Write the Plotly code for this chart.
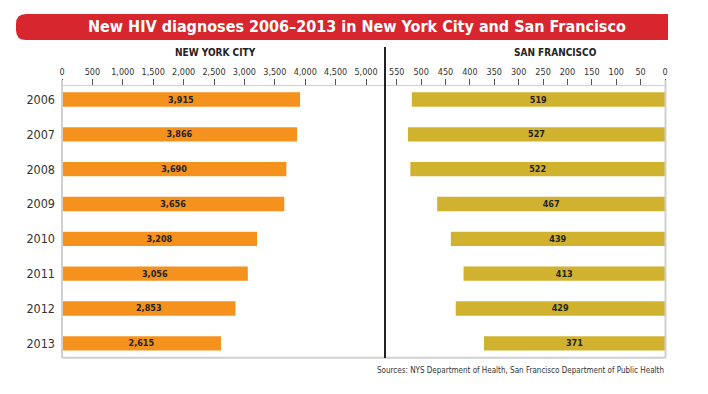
import plotly.graph_objects as go

years = ["2006", "2007", "2008", "2009", "2010", "2011", "2012", "2013"]
nyc = [3915, 3866, 3690, 3656, 3208, 3056, 2853, 2615]
sf = [519, 527, 522, 467, 439, 413, 429, 371]
nyc_ticks = [0, 500, 1000, 1500, 2000, 2500, 3000, 3500, 4000, 4500, 5000]
sf_ticks = [550, 500, 450, 400, 350, 300, 250, 200, 150, 100, 50, 0]

title = "New HIV diagnoses 2006\u20132013 in New York City and San Francisco"
source = "Sources: NYS Department of Health, San Francisco Department of Public Health"

# page has an 8px body margin; figure occupies the rest of the 708x394 window
OFF = 8
W, H = 708 - OFF, 394 - OFF
FONT = "DejaVu Sans Condensed, Liberation Sans Narrow, sans-serif"

def px(x):
    return (x - OFF) / W

def py(y):
    return 1 - (y - OFF) / H

fig = go.Figure()
fig.add_trace(go.Bar(
    y=years, x=nyc, orientation="h", xaxis="x", yaxis="y",
    marker=dict(color="#F5921E", line=dict(width=0)),
    texttemplate="<b>%{x:,}</b>", textposition="inside", insidetextanchor="middle",
    textangle=0, textfont=dict(family=FONT, size=9, color="#222222"),
    hoverinfo="skip", width=0.41,
))
fig.add_trace(go.Bar(
    y=years, x=sf, orientation="h", xaxis="x2", yaxis="y",
    marker=dict(color="#D1B22E", line=dict(width=0)),
    texttemplate="<b>%{x:,}</b>", textposition="inside", insidetextanchor="middle",
    textangle=0, textfont=dict(family=FONT, size=9, color="#222222"),
    hoverinfo="skip", width=0.41,
))

top, bottom = 86, 357.7
gray = "#D0D0D0"
tickfont = dict(size=9, color="#333333", family=FONT)
fig.update_layout(
    width=W, height=H, margin=dict(l=0, r=0, t=0, b=0, autoexpand=False),
    paper_bgcolor="white", plot_bgcolor="rgba(0,0,0,0)",
    showlegend=False, font=dict(family=FONT, color="#333333"),
    uniformtext=dict(minsize=8, mode="show"),
    xaxis=dict(domain=[px(62), px(385)], range=[0, 5312], side="top",
               tickvals=nyc_ticks, ticktext=[f"{v:,}" for v in nyc_ticks],
               ticks="outside", ticklen=6, tickcolor="#555555", tickwidth=1,
               showgrid=False, zeroline=False, showline=True, linecolor=gray,
               linewidth=1, automargin=False, tickfont=tickfont, anchor="y"),
    xaxis2=dict(domain=[px(385), px(665)], range=[574, 0], side="top",
                tickvals=sf_ticks, ticktext=[str(v) for v in sf_ticks],
                ticks="outside", ticklen=6, tickcolor="#555555", tickwidth=1,
                showgrid=False, zeroline=False, showline=True, linecolor=gray,
                linewidth=1, automargin=False, tickfont=tickfont, anchor="y"),
    yaxis=dict(domain=[py(bottom), py(top)], range=[7.413, -0.388],
               categoryorder="array", categoryarray=years,
               showgrid=False, zeroline=False, showline=False, ticks="",
               automargin=False,
               tickfont=dict(size=12.5, color="#333333", family=FONT),
               ticklabelstandoff=6),
)

def pt(x, y):
    return f"{px(x)},{py(y)}"

shapes = []
r = 10
path = (f"M {pt(16 + r, 14)} L {pt(668, 14)} L {pt(668, 40)} L {pt(16 + r, 40)} "
        f"Q {pt(16, 40)} {pt(16, 40 - r)} L {pt(16, 14 + r)} Q {pt(16, 14)} {pt(16 + r, 14)} Z")
shapes.append(dict(type="path", xref="paper", yref="paper", path=path,
                   fillcolor="#D7262D", line=dict(width=0), layer="below"))
shapes.append(dict(type="line", xref="paper", yref="paper", x0=px(62), x1=px(62),
                   y0=py(80), y1=py(bottom), line=dict(color=gray, width=2)))
shapes.append(dict(type="line", xref="paper", yref="paper", x0=px(665.5), x1=px(665.5),
                   y0=py(80), y1=py(bottom), line=dict(color=gray, width=2)))
shapes.append(dict(type="line", xref="paper", yref="paper", x0=px(62), x1=px(665.5),
                   y0=py(bottom), y1=py(bottom), line=dict(color=gray, width=2)))
shapes.append(dict(type="line", xref="paper", yref="paper", x0=px(385), x1=px(385),
                   y0=py(47), y1=py(358), line=dict(color="#222222", width=2)))
fig.update_layout(shapes=shapes)

annotations = [
    dict(text=f"<b>{title}</b>", x=px(357), y=py(27), xref="paper", yref="paper",
         showarrow=False, xanchor="center", yanchor="middle",
         font=dict(family=FONT, size=16, color="white")),
    dict(text="<b>NEW YORK CITY</b>", x=px(215), y=py(53), xref="paper", yref="paper",
         showarrow=False, xanchor="center", yanchor="middle",
         font=dict(family=FONT, size=10, color="#222222")),
    dict(text="<b>SAN FRANCISCO</b>", x=px(555), y=py(53), xref="paper", yref="paper",
         showarrow=False, xanchor="center", yanchor="middle",
         font=dict(family=FONT, size=10, color="#222222")),
    dict(text=source, x=px(666), y=py(370), xref="paper", yref="paper",
         showarrow=False, xanchor="right", yanchor="middle",
         font=dict(family=FONT, size=8, color="#333333")),
]
fig.update_layout(annotations=annotations)

fig.write_html("out.html")
